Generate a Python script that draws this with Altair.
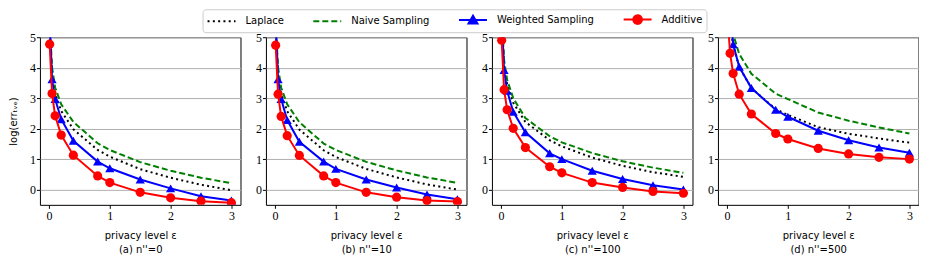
import altair as alt
import pandas as pd

# ---------------- data ----------------
eps = [0.01, 0.05, 0.1, 0.2, 0.4, 0.8, 1.0, 1.5, 2.0, 2.5, 3.0]
series_names = ["Laplace", "Naive Sampling", "Weighted Sampling", "Additive"]
series_colors = ["#000000", "#008000", "#0000ff", "#ff0000"]
captions = ["(a) n''=0", "(b) n''=10", "(c) n''=100", "(d) n''=500"]
x_ticks = [0, 1, 2, 3]
y_ticks = [0, 1, 2, 3, 4, 5]

laplace_a = [5.30, 3.80, 3.15, 2.58, 1.98, 1.30, 1.08, 0.67, 0.39, 0.16, -0.02]
naive_a = [5.50, 4.00, 3.35, 2.80, 2.22, 1.52, 1.30, 0.90, 0.62, 0.39, 0.21]
weighted_a = [5.50, 3.62, 2.97, 2.31, 1.60, 0.92, 0.70, 0.33, 0.04, -0.22, -0.36]
additive_a = [4.77, 3.15, 2.42, 1.79, 1.13, 0.45, 0.23, -0.09, -0.27, -0.38, -0.43]

laplace_b = [5.30, 3.80, 3.15, 2.57, 1.97, 1.29, 1.07, 0.68, 0.40, 0.17, 0.00]
naive_b = [5.50, 4.00, 3.35, 2.80, 2.21, 1.51, 1.30, 0.91, 0.63, 0.40, 0.22]
weighted_b = [5.50, 3.62, 2.97, 2.28, 1.57, 0.92, 0.68, 0.33, 0.07, -0.16, -0.32]
additive_b = [4.74, 3.13, 2.40, 1.77, 1.12, 0.45, 0.23, -0.09, -0.25, -0.36, -0.39]

laplace_c = [5.60, 4.10, 3.45, 2.85, 2.22, 1.62, 1.42, 1.05, 0.78, 0.57, 0.42]
naive_c = [5.80, 4.25, 3.60, 3.00, 2.35, 1.75, 1.55, 1.20, 0.93, 0.72, 0.55]
weighted_c = [5.60, 3.92, 3.24, 2.55, 1.88, 1.19, 1.00, 0.62, 0.35, 0.14, 0.00]
additive_c = [4.90, 3.28, 2.62, 2.01, 1.38, 0.75, 0.55, 0.23, 0.07, -0.06, -0.12]

laplace_d = [6.50, 5.40, 4.75, 4.02, 3.33, 2.64, 2.45, 2.05, 1.83, 1.68, 1.54]
naive_d = [7.00, 5.80, 5.10, 4.45, 3.80, 3.15, 2.97, 2.53, 2.26, 2.04, 1.84]
weighted_d = [7.50, 6.00, 4.77, 4.03, 3.33, 2.62, 2.39, 1.93, 1.62, 1.38, 1.21]
additive_d = [5.60, 4.47, 3.81, 3.13, 2.48, 1.84, 1.66, 1.35, 1.17, 1.06, 1.00]

panel_values = [
    [laplace_a, naive_a, weighted_a, additive_a],
    [laplace_b, naive_b, weighted_b, additive_b],
    [laplace_c, naive_c, weighted_c, additive_c],
    [laplace_d, naive_d, weighted_d, additive_d],
]

rows = []
for cap, vals in zip(captions, panel_values):
    for name, arr in zip(series_names, vals):
        for e, v in zip(eps, arr):
            rows.append({"panel": cap, "series": name, "eps": e, "value": v})
df = pd.DataFrame(rows)

# legend glyphs (line + marker); one unit = 5 px with symbolSize 100
legend_paths = [
    "M-1,0H4.6",
    "M-1,0H4.6",
    "M-1,0H4.6M1.8,-0.85L2.7,0.7L0.9,0.7Z",
    "M-1,0H4.6M2.66,0A0.86,0.86,0,1,1,0.94,0A0.86,0.86,0,1,1,2.66,0Z",
]
legend_dash = [[2, 3.3], [6, 3], [1, 0], [1, 0]]

SANS = "DejaVu Sans"
SERIF = "Liberation Serif"

leg = alt.Legend(
    orient="none", legendX=163, legendY=-28, direction="horizontal", title=None,
    symbolSize=100, symbolStrokeWidth=2, labelFont=SANS, labelFontSize=10,
    labelColor="black", labelOffset=27, columnPadding=25, padding=4,
    strokeColor="#cccccc", fillColor="white", cornerRadius=3,
)


def panel(i):
    d = df[df["panel"] == captions[i]]
    x_enc = alt.X(
        "eps:Q",
        scale=alt.Scale(domain=[-0.15, 3.15], nice=False, zero=False),
        axis=alt.Axis(values=x_ticks, grid=False, title=["privacy level ε", captions[i]],
                      titleLineHeight=14, titlePadding=9, labelFont=SERIF, labelFontSize=12),
    )
    y_axis = alt.Axis(values=y_ticks, grid=True, title="log(errₜᵥₑ)" if i == 0 else None,
                      titlePadding=11, labelFont=SERIF, labelFontSize=12)
    y_enc = alt.Y("value:Q", scale=alt.Scale(domain=[-0.5, 5], nice=False, zero=False), axis=y_axis)
    base = alt.Chart(d).encode(x=x_enc, y=y_enc)

    def sel(name):
        return base.transform_filter(alt.datum.series == name)

    layers = [
        sel("Laplace").mark_line(color="black", strokeDash=[2, 3.3], strokeWidth=2, clip=True),
        sel("Naive Sampling").mark_line(color="#008000", strokeDash=[6, 3], strokeWidth=2, clip=True),
        sel("Weighted Sampling").mark_line(color="#0000ff", strokeWidth=2, clip=True),
        sel("Weighted Sampling").mark_point(shape="triangle-up", filled=True, size=85,
                                            color="#0000ff", opacity=1, clip=True),
        sel("Additive").mark_line(color="#ff0000", strokeWidth=2, clip=True),
        sel("Additive").mark_point(shape="circle", filled=True, size=85,
                                   color="#ff0000", opacity=1, clip=True),
    ]
    if i == 0:
        layers.append(
            base.mark_point(size=0, filled=True, opacity=1, clip=True).encode(
                fill=alt.Fill("series:N", scale=alt.Scale(domain=series_names, range=series_colors), legend=leg),
                stroke=alt.Stroke("series:N", scale=alt.Scale(domain=series_names, range=series_colors), legend=leg),
                shape=alt.Shape("series:N", scale=alt.Scale(domain=series_names, range=legend_paths), legend=leg),
                strokeDash=alt.StrokeDash("series:N", scale=alt.Scale(domain=series_names, range=legend_dash), legend=leg),
            )
        )
    return alt.layer(*layers).properties(width=201, height=168)


chart = alt.hconcat(*[panel(i) for i in range(4)], spacing=13.5).properties(
    padding=0
).configure_view(
    stroke="black", strokeWidth=1
).configure_axis(
    labelFont=SERIF, labelFontSize=12, labelColor="black", labelPadding=1,
    titleFont=SANS, titleFontSize=10, titleFontWeight="normal", titleColor="black",
    tickColor="black", tickSize=3.5, tickWidth=1, domain=False,
    gridColor="#b0b0b0", gridWidth=1,
).configure_axisX(labelPadding=2)

chart.save("out.html", embed_options={"renderer": "svg", "actions": False})
